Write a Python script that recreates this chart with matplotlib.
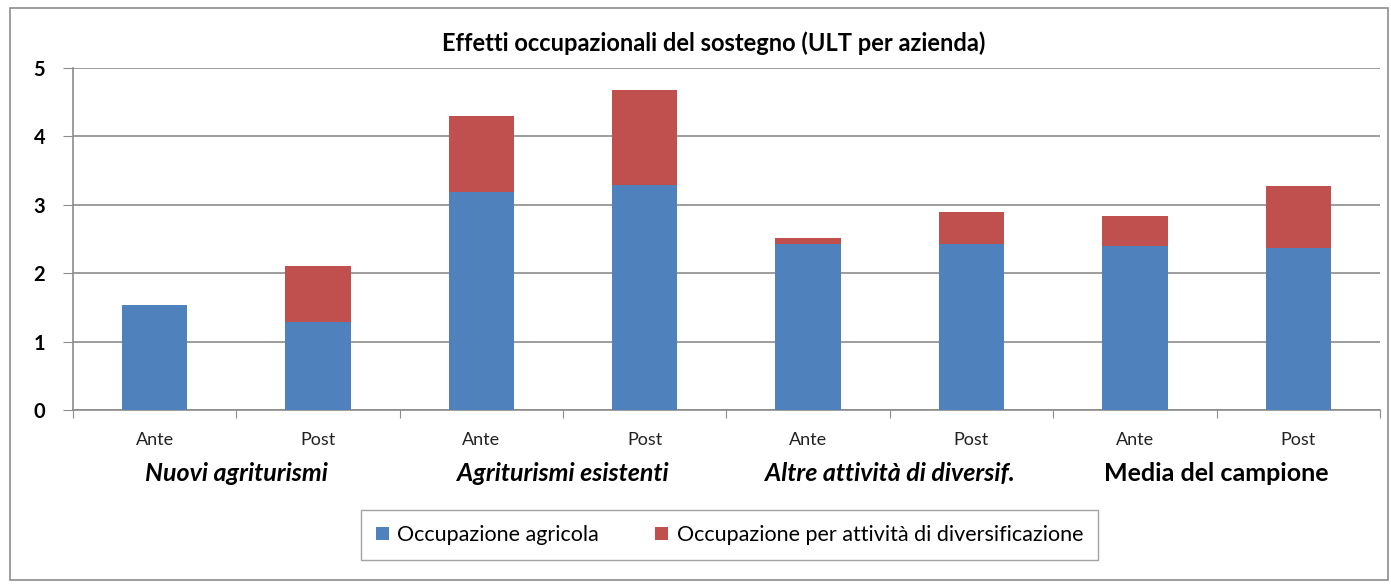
import matplotlib
matplotlib.use("Agg")
from matplotlib import pyplot as plt
from matplotlib.patches import Rectangle
import numpy as np

plt.rcParams['font.family'] = ['Lato', 'DejaVu Sans']

# Data (ULT per azienda)
phases = ["Ante", "Post", "Ante", "Post", "Ante", "Post", "Ante", "Post"]
groups = ["Nuovi agriturismi", "Agriturismi esistenti",
          "Altre attività di diversif.", "Media del campione"]
agricola = [1.53, 1.29, 3.18, 3.29, 2.43, 2.43, 2.40, 2.36]
diversif = [0.00, 0.81, 1.11, 1.38, 0.08, 0.46, 0.44, 0.91]

blue = "#4F81BD"
red = "#C0504D"

fig = plt.figure(figsize=(13.91, 5.84), dpi=100)
ax = fig.add_axes([0.0525, 0.298, 0.9395, 0.586])

x = np.arange(len(phases))
ax.bar(x, agricola, width=0.4, color=blue, label="Occupazione agricola", zorder=3)
ax.bar(x, diversif, width=0.4, bottom=agricola, color=red,
       label="Occupazione per attività di diversificazione", zorder=3)

ax.set_xlim(-0.5, len(phases) - 0.5)
ax.set_ylim(0, 5)
ax.set_yticks(range(6))
ax.yaxis.grid(True, color="#8c8c8c", linewidth=1.2, zorder=0)
for s in ["top", "right"]:
    ax.spines[s].set_visible(False)
ax.spines["left"].set_color("#8c8c8c")
ax.spines["bottom"].set_color("#8c8c8c")
ax.spines["left"].set_linewidth(1.2)
ax.spines["bottom"].set_linewidth(1.2)

ax.set_xticks(np.arange(-0.5, len(phases), 1.0))
ax.set_xticklabels([])
ax.tick_params(axis="x", direction="out", length=6, color="#8c8c8c")
ax.tick_params(axis="y", direction="out", length=7, color="#8c8c8c",
               labelsize=14.5, pad=13)
for lab in ax.get_yticklabels():
    lab.set_fontweight("bold")

trans = ax.get_xaxis_transform()
for i, p in enumerate(phases):
    ax.text(i, -0.088, p, transform=trans, ha="center", va="center",
            fontsize=13, color="#222222")
for g, name in enumerate(groups):
    style = "normal" if g == 3 else "italic"
    ax.text(2 * g + 0.5, -0.186, name, transform=trans, ha="center", va="center",
            fontsize=18, fontweight="bold", fontstyle=style)

fig.text(0.513, 0.926, "Effetti occupazionali del sostegno (ULT per azienda)",
         ha="center", va="center", fontsize=17, fontweight="bold")

leg = fig.legend(loc="center", bbox_to_anchor=(0.5245, 0.084), ncol=2,
                 fontsize=15.5, frameon=True, fancybox=False,
                 edgecolor="#8c8c8c", handlelength=0.6, handleheight=0.6,
                 columnspacing=2.6, handletextpad=0.4, borderpad=0.7)
leg.get_frame().set_linewidth(1.0)

fig.patches.append(Rectangle((0.007, 0.007), 0.991, 0.98, transform=fig.transFigure,
                             fill=False, edgecolor="#8c8c8c", linewidth=1.2))

plt.savefig("out.png", dpi=100)
plt.close()
